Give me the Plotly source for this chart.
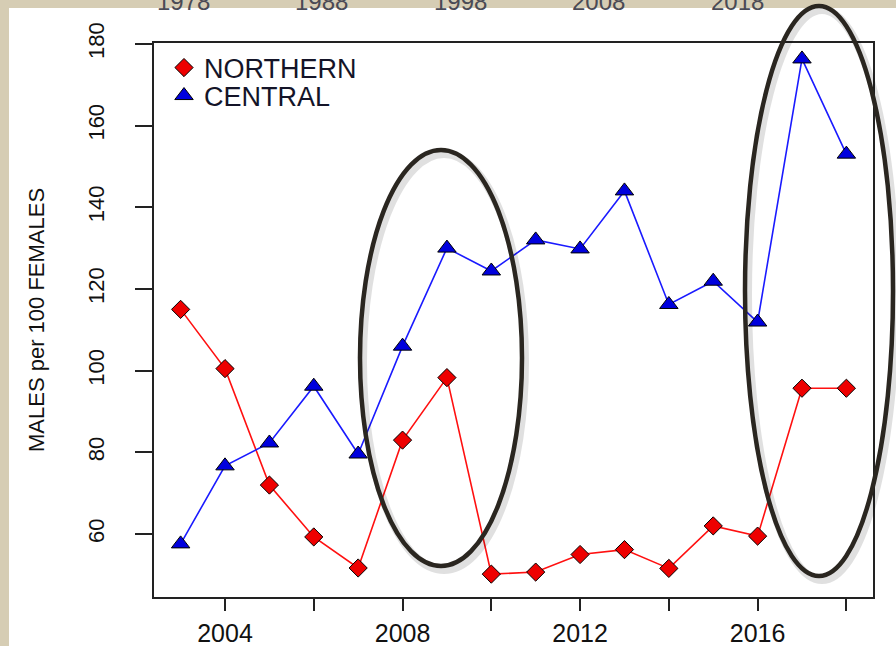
import plotly.graph_objects as go

# sex ratio series
years = list(range(2003, 2019))
northern = [115, 100.5, 72, 59.3, 51.7, 83, 98.3, 50.2, 50.7, 55, 56.2, 51.6, 62, 59.5, 95.7, 95.7]
central = [57.6, 76.7, 82.3, 96.2, 79.6, 106, 130, 124.4, 132, 129.8, 144, 116.2, 121.9, 111.9, 176.3, 153]

x_ticks = list(range(2004, 2019, 2))
x_labels = ["2004", "", "2008", "", "2012", "", "2016", ""]
y_ticks = [60, 80, 100, 120, 140, 160, 180]
top_labels = ["1978", "1988", "1998", "2008", "2018"]

W, H = 896, 646
L, R, T, B = 154, 23, 43, 49
FONT = "Liberation Sans, Arial, sans-serif"


def px(p):
    return (p - L) / (W - L - R)


def py(p):
    return (H - B - p) / (H - T - B)


red_marker = dict(symbol="diamond", size=14, color="#ee0000", line=dict(color="#000", width=1))
blue_marker = dict(symbol="triangle-up", size=16, color="#0000dd", line=dict(color="#000", width=1))

fig = go.Figure()
fig.add_trace(go.Scatter(x=years, y=northern, mode="lines+markers", showlegend=False,
                         line=dict(color="#ff1010", width=1.6), marker=red_marker))
fig.add_trace(go.Scatter(x=years, y=central, mode="lines+markers", showlegend=False,
                         line=dict(color="#1a1aff", width=1.6), marker=blue_marker))
# legend entries show points only, one legend per row to get the tight R spacing
fig.add_trace(go.Scatter(x=[None], y=[None], mode="markers", name="NORTHERN",
                         marker=red_marker, legend="legend"))
fig.add_trace(go.Scatter(x=[None], y=[None], mode="markers", name="CENTRAL",
                         marker=blue_marker, legend="legend2"))

shapes = [
    # white slide panel on the parchment background
    dict(type="rect", xref="paper", yref="paper", layer="below",
         x0=px(9), x1=px(W + 5), y0=py(H + 5), y1=py(8),
         fillcolor="white", line=dict(width=0)),
]
# hand-drawn highlight ellipses (shadow first)
for cx, cy, rx, ry in [(441, 358, 81, 208), (819, 291, 74, 285)]:
    shapes.append(dict(type="circle", xref="paper", yref="paper", layer="above",
                       x0=px(cx - rx + 3), x1=px(cx + rx + 3), y0=py(cy + ry + 4), y1=py(cy - ry + 4),
                       line=dict(color="rgba(0,0,0,0.12)", width=8)))
    shapes.append(dict(type="circle", xref="paper", yref="paper", layer="above",
                       x0=px(cx - rx), x1=px(cx + rx), y0=py(cy + ry), y1=py(cy - ry),
                       line=dict(color="#2a2620", width=4.5)))

annotations = [
    dict(text="MALES per 100 FEMALES", xref="paper", yref="paper", x=px(36), y=py(320),
         textangle=-90, showarrow=False, xanchor="center", yanchor="middle",
         font=dict(family=FONT, size=22, color="#111")),
]
# cut-off tick labels of the chart above
for i, lab in enumerate(top_labels):
    annotations.append(dict(text=lab, xref="paper", yref="paper", x=px(183 + i * 138.5), y=py(1),
                            showarrow=False, xanchor="center", yanchor="middle",
                            font=dict(family=FONT, size=24, color="#4a4a55")))

legend_style = dict(xanchor="left", yanchor="middle", bgcolor="rgba(0,0,0,0)",
                    font=dict(family=FONT, size=27, color="#141428"), itemwidth=30)

fig.update_layout(
    width=W, height=H,
    margin=dict(l=L, r=R, t=T, b=B, autoexpand=False),
    paper_bgcolor="#d6cdb4", plot_bgcolor="white",
    font=dict(family=FONT, size=22, color="#111"),
    xaxis=dict(range=[2002.4, 2018.6], tickvals=x_ticks, ticktext=x_labels, automargin=False,
               showgrid=False, zeroline=False, showline=True, mirror=True,
               linecolor="#222", linewidth=1.5, ticks="outside", ticklen=12, tickwidth=1.5,
               tickcolor="#222", ticklabelstandoff=1, tickfont=dict(size=25, color="#111")),
    yaxis=dict(range=[44.6, 180.2], tickvals=y_ticks, tickangle=-90, automargin=False,
               showgrid=False, zeroline=False, showline=True, mirror=True,
               linecolor="#222", linewidth=1.5, ticks="outside", ticklen=17, tickwidth=1.5,
               tickcolor="#222", ticklabelstandoff=22, tickfont=dict(size=22, color="#111")),
    legend=dict(x=px(164), y=py(68), **legend_style),
    legend2=dict(x=px(164), y=py(96), **legend_style),
    shapes=shapes, annotations=annotations,
)

fig.write_html("out.html", config={"displayModeBar": False},
               post_script="document.body.style.margin='0';")
